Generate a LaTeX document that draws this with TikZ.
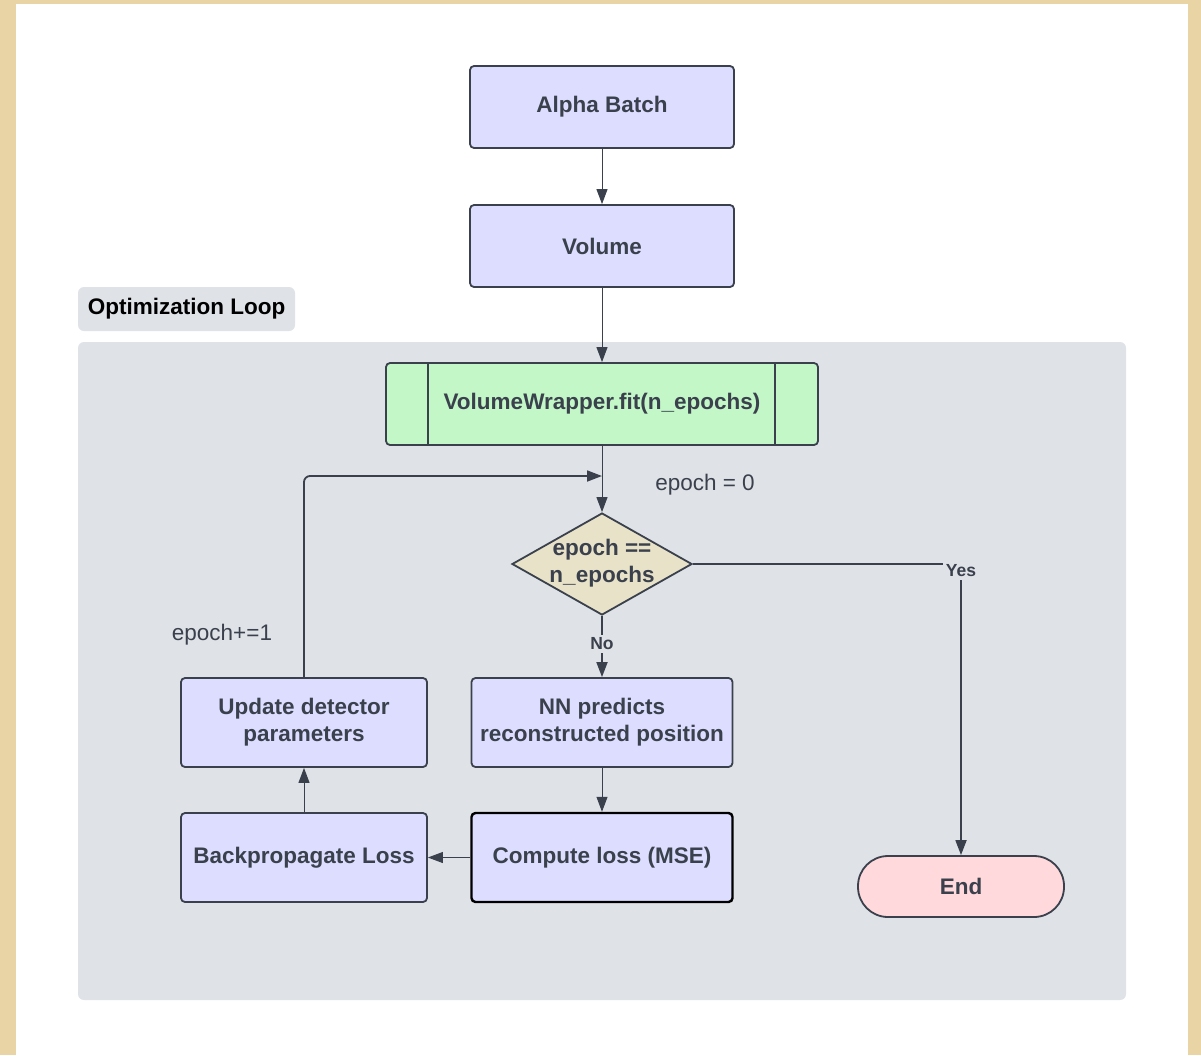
\documentclass[tikz,border=0pt]{standalone}
\usepackage{fontspec}
\setmainfont{Liberation Sans}
\usepackage{xcolor}
\usepackage{tikz}
\usetikzlibrary{shapes.geometric, arrows.meta, positioning, calc}
\definecolor{OLText}{RGB}{58, 65, 76}
\definecolor{OLParch}{RGB}{232, 212, 164}
\definecolor{OLLoop}{RGB}{223, 226, 231}
\definecolor{OLBox}{RGB}{221, 222, 255}
\definecolor{OLGreen}{RGB}{195, 247, 200}
\definecolor{OLSand}{RGB}{232, 226, 200}
\definecolor{OLPink}{RGB}{255, 217, 219}

\begin{document}
\begin{tikzpicture}[x=1pt,y=-1pt,
    procbox/.style={draw=OLText, line width=1.8pt, fill=OLBox, rounded corners=4pt,
        minimum width=264pt, minimum height=82pt, inner sep=2pt, align=center,
        text=OLText, font=\fontsize{22.5}{27}\selectfont\bfseries},
    decbox/.style={draw=OLText, line width=1.8pt, fill=OLSand, shape=diamond,
        minimum width=180pt, minimum height=102pt, inner sep=0pt},
    plaintext/.style={text=OLText, font=\fontsize{22.5}{27}\selectfont},
    edgelabel/.style={text=OLText, fill=OLLoop, inner sep=3pt,
        font=\fontsize{17.5}{20}\selectfont\bfseries},
    thinarr/.style={draw=OLText, line width=1pt, -{Triangle[length=15pt,width=11pt]}},
    thickarr/.style={draw=OLText, line width=1.8pt, -{Triangle[length=15pt,width=11pt]}}]
  \path[use as bounding box] (0,0) rectangle (1201,1055);
  \fill[OLParch] (0,0) rectangle (1201,1055);
  \fill[white] (16,4) rectangle (1188,1055);

  % Loop container and its tag
  \fill[OLLoop, rounded corners=6pt] (78,342) rectangle (1126,1000);
  \node[fill=OLLoop, rounded corners=6pt, minimum width=217pt, minimum height=44pt,
        font=\fontsize{22.5}{27}\selectfont\bfseries] (looptag) at (186.5,309) {Optimization Loop};

  % Input chain
  \node[procbox] (alpha) at (602,107) {Alpha Batch};
  \node[procbox] (volume) at (602,246) {Volume};
  \node[procbox, fill=OLGreen, minimum width=432pt] (wrapper) at (602,404) {VolumeWrapper.fit(n\_epochs)};
  \draw[OLText, line width=1.8pt] ([xshift=43pt]wrapper.north west) -- ([xshift=43pt]wrapper.south west);
  \draw[OLText, line width=1.8pt] ([xshift=-44pt]wrapper.north east) -- ([xshift=-44pt]wrapper.south east);

  % Decision
  \node[decbox] (check) at (602,564) {};
  \node[plaintext, font=\fontsize{22.5}{27}\selectfont\bfseries, align=center] (checktext) at ([yshift=1pt]check) {epoch ==\\n\_epochs};
  \node[plaintext] (init) at (705,485) {epoch = 0};

  % Loop body
  \node[procbox, minimum width=261pt, minimum height=89pt] (predict) at (602,722.5) {NN predicts\\reconstructed position};
  \node[procbox, minimum width=261pt, minimum height=89pt, draw=black, line width=2.4pt] (loss) at (602,857.5) {Compute loss (MSE)};
  \node[procbox, minimum width=246pt, minimum height=89pt] (backprop) at (304,857.5) {Backpropagate Loss};
  \node[procbox, minimum width=246pt, minimum height=89pt] (update) at (304,722.5) {Update detector\\parameters};
  \node[plaintext] (incr) at (222,635) {epoch+=1};

  % End
  \node[procbox, fill=OLPink, minimum width=206pt, minimum height=61pt, rounded corners=30pt] (finish) at (961,886.5) {End};

  % Connectors
  \coordinate (merge) at (602,476);
  \draw[thinarr] (alpha) -- (volume);
  \draw[thinarr] (volume) -- (wrapper);
  \draw[thinarr] (wrapper) -- (check);
  \draw[thickarr, rounded corners=6pt] (update.north) |- (merge);
  \draw[thickarr] (check.south) -- node[edgelabel, pos=0.46] {No} (predict.north);
  \draw[thickarr] (check.east) -| node[edgelabel, pos=0.5, yshift=-7pt] {Yes} (finish.north);
  \draw[thinarr] (predict) -- (loss);
  \draw[thinarr] (loss) -- (backprop);
  \draw[thinarr] (backprop) -- (update);
\end{tikzpicture}
\end{document}
